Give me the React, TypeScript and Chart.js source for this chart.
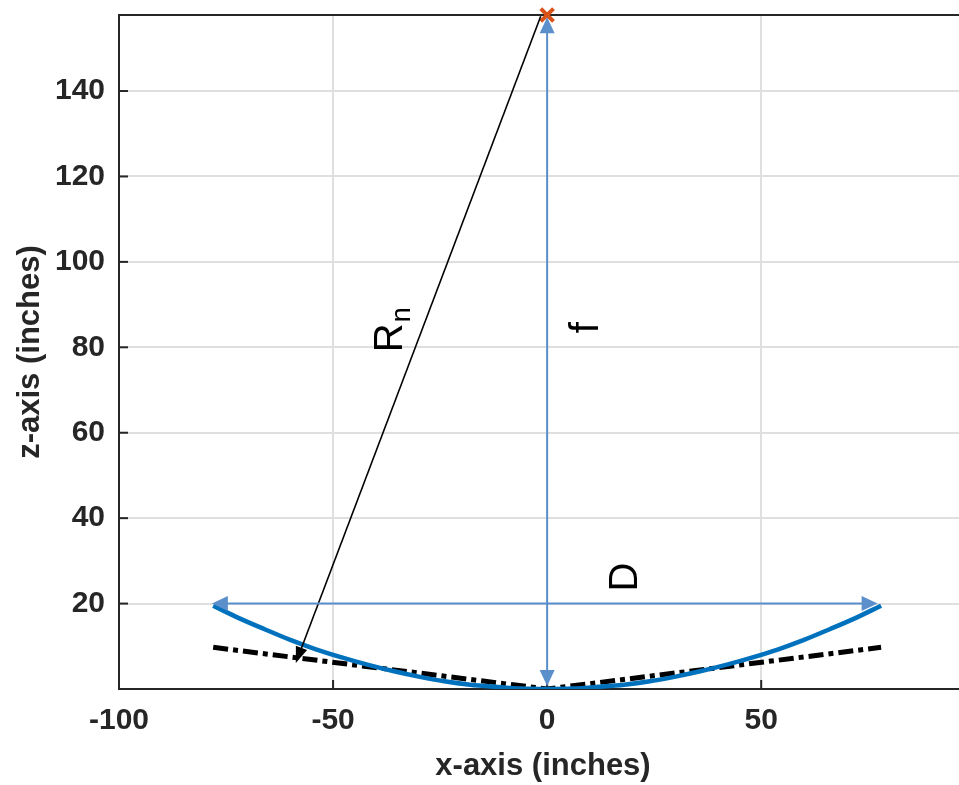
import React, { useEffect, useRef } from "react";
import { Chart, registerables } from "chart.js";

Chart.register(...registerables);

// ---- data (axis units) ----
const X_TICKS = [-100, -50, 0, 50];
const Z_TICKS = [20, 40, 60, 80, 100, 120, 140];
const X_RANGE = [-100, 96.2];
const Z_RANGE = [0, 157.8];

const DISH_X = [-78, -72, -66, -60, -54, -48, -42, -36, -30, -24, -18, -12, -6, 0, 6, 12, 18, 24, 30, 36, 42, 48, 54, 60, 66, 72, 78];
const DISH_Z = [19.5, 16.6, 14.0, 11.5, 9.3, 7.4, 5.7, 4.2, 2.9, 1.8, 1.0, 0.5, 0.1, 0, 0.1, 0.5, 1.0, 1.8, 2.9, 4.2, 5.7, 7.4, 9.3, 11.5, 14.0, 16.6, 19.5];

const CONE_X = [-78, 0, 78];
const CONE_Z = [9.75, 0, 9.75];

const FOCUS = { x: 0, z: 157.8 };

// annotation arrows: [x1, z1, x2, z2]
const ARROW_RN = [-1.5, 157.5, -58.7, 6.1];
const ARROW_F = [0, 0.7, 0, 157.3];
const ARROW_D = [-78.3, 20, 77.2, 20];

// label anchors (baseline x, centre z)
const LABEL_RN = { x: -33.8, z: 84 };
const LABEL_F = { x: 11.8, z: 84.6 };
const LABEL_D = { x: 20.9, z: 26.2 };

const FONT = "'Liberation Sans', Arial, Helvetica, sans-serif";
const AXIS_COLOR = "#262626";
const ARROW_BLUE = "#5B8FCB";

function drawArrow(ctx: CanvasRenderingContext2D, x1: number, y1: number, x2: number, y2: number, color: string, lw: number, hl: number, hw: number, both: boolean) {
  const dx = x2 - x1, dy = y2 - y1;
  const len = Math.hypot(dx, dy);
  const ux = dx / len, uy = dy / len;
  const px = -uy, py = ux;
  const sx = both ? x1 + ux * hl * 0.9 : x1;
  const sy = both ? y1 + uy * hl * 0.9 : y1;
  const ex = x2 - ux * hl * 0.9, ey = y2 - uy * hl * 0.9;
  ctx.save();
  ctx.strokeStyle = color;
  ctx.fillStyle = color;
  ctx.lineWidth = lw;
  ctx.beginPath();
  ctx.moveTo(sx, sy);
  ctx.lineTo(ex, ey);
  ctx.stroke();
  const head = (tx: number, ty: number, dirx: number, diry: number) => {
    const bx = tx - dirx * hl, by = ty - diry * hl;
    ctx.beginPath();
    ctx.moveTo(tx, ty);
    ctx.lineTo(bx + px * hw / 2, by + py * hw / 2);
    ctx.lineTo(bx - px * hw / 2, by - py * hw / 2);
    ctx.closePath();
    ctx.fill();
  };
  head(x2, y2, ux, uy);
  if (both) head(x1, y1, -ux, -uy);
  ctx.restore();
}

const decorPlugin = {
  id: "decor",
  beforeDatasetsDraw(chart: any) {
    const { ctx, chartArea, scales } = chart;
    const xs = scales.x, ys = scales.y;
    ctx.save();
    ctx.strokeStyle = AXIS_COLOR;
    ctx.lineWidth = 2;
    ctx.beginPath();
    ctx.moveTo(chartArea.left, chartArea.top);
    ctx.lineTo(chartArea.right, chartArea.top);
    ctx.stroke();
    for (const v of X_TICKS) {
      const p = xs.getPixelForValue(v);
      ctx.beginPath();
      ctx.moveTo(p, chartArea.bottom);
      ctx.lineTo(p, chartArea.bottom - 9);
      ctx.stroke();
    }
    for (const v of Z_TICKS) {
      const p = ys.getPixelForValue(v);
      ctx.beginPath();
      ctx.moveTo(chartArea.left, p);
      ctx.lineTo(chartArea.left + 9, p);
      ctx.stroke();
    }
    ctx.restore();
  },
  afterDatasetsDraw(chart: any) {
    const { ctx, chartArea, scales } = chart;
    const xs = scales.x, ys = scales.y;
    const X = (v: number) => xs.getPixelForValue(v);
    const Y = (v: number) => ys.getPixelForValue(v);

    drawArrow(ctx, X(ARROW_RN[0]), Y(ARROW_RN[1]), X(ARROW_RN[2]), Y(ARROW_RN[3]), "#000000", 1.6, 16, 12, false);
    drawArrow(ctx, X(ARROW_F[0]), Y(ARROW_F[1]), X(ARROW_F[2]), Y(ARROW_F[3]), ARROW_BLUE, 2, 16, 15, true);
    drawArrow(ctx, X(ARROW_D[0]), Y(ARROW_D[1]), X(ARROW_D[2]), Y(ARROW_D[3]), ARROW_BLUE, 2, 16, 15, true);

    ctx.save();
    ctx.fillStyle = "#000000";
    ctx.textBaseline = "alphabetic";
    ctx.save();
    ctx.translate(X(LABEL_RN.x), Y(LABEL_RN.z));
    ctx.rotate(-Math.PI / 2);
    ctx.font = `40px ${FONT}`;
    const wR = ctx.measureText("R").width;
    ctx.font = `27px ${FONT}`;
    const wn = ctx.measureText("n").width;
    const start = -(wR + wn) / 2;
    ctx.textAlign = "left";
    ctx.font = `40px ${FONT}`;
    ctx.fillText("R", start, 0);
    ctx.font = `27px ${FONT}`;
    ctx.fillText("n", start + wR + 1, 8);
    ctx.restore();
    ctx.save();
    ctx.translate(X(LABEL_F.x), Y(LABEL_F.z));
    ctx.rotate(-Math.PI / 2);
    ctx.textAlign = "center";
    ctx.font = `40px ${FONT}`;
    ctx.fillText("f", 0, 0);
    ctx.restore();
    ctx.save();
    ctx.translate(X(LABEL_D.x), Y(LABEL_D.z));
    ctx.rotate(-Math.PI / 2);
    ctx.textAlign = "center";
    ctx.font = `40px ${FONT}`;
    ctx.fillText("D", 0, 0);
    ctx.restore();
    ctx.restore();

    ctx.save();
    ctx.fillStyle = AXIS_COLOR;
    ctx.font = `bold 31px ${FONT}`;
    ctx.textAlign = "center";
    ctx.textBaseline = "middle";
    ctx.fillText("x-axis (inches)", 543, 766);
    ctx.translate(30, (chartArea.top + chartArea.bottom) / 2);
    ctx.rotate(-Math.PI / 2);
    ctx.fillText("z-axis (inches)", 0, 0);
    ctx.restore();
  },
};

export default function App() {
  const ref = useRef<HTMLCanvasElement | null>(null);
  useEffect(() => {
    if (!ref.current) return;
    const chart = new Chart(ref.current, {
      type: "line",
      data: {
        datasets: [
          {
            label: "dish",
            data: DISH_X.map((x, i) => ({ x, y: DISH_Z[i] })),
            borderColor: "#0072BD",
            borderWidth: 4.5,
            pointRadius: 0,
            tension: 0.4,
            cubicInterpolationMode: "monotone",
            fill: false,
          },
          {
            label: "cone",
            data: CONE_X.map((x, i) => ({ x, y: CONE_Z[i] })),
            borderColor: "#000000",
            borderWidth: 5,
            borderDash: [15, 5, 5, 5],
            pointRadius: 0,
            fill: false,
          },
          {
            label: "focus",
            data: [{ x: FOCUS.x, y: FOCUS.z }],
            showLine: false,
            pointStyle: "crossRot",
            pointRadius: 9,
            pointBorderWidth: 4,
            pointBorderColor: "#D95319",
            pointBackgroundColor: "#D95319",
            clip: false,
          } as any,
        ],
      },
      options: {
        animation: false,
        responsive: false,
        maintainAspectRatio: false,
        layout: { autoPadding: false, padding: { top: 15, left: 0, right: 0, bottom: 0 } },
        plugins: { legend: { display: false }, tooltip: { enabled: false } },
        scales: {
          x: {
            type: "linear",
            position: "bottom",
            min: X_RANGE[0],
            max: X_RANGE[1],
            afterBuildTicks: (s: any) => { s.ticks = X_TICKS.map((v) => ({ value: v })); },
            afterFit: (s: any) => { s.height = 96; s.paddingLeft = 0; s.paddingRight = 0; s.paddingTop = 0; s.paddingBottom = 0; },
            grid: { color: "#DFDFDF", lineWidth: 2, drawTicks: false },
            border: { display: true, color: AXIS_COLOR, width: 2 },
            ticks: { font: { family: FONT, size: 30, weight: "bold" }, color: AXIS_COLOR, padding: 14, maxRotation: 0 },
          },
          y: {
            type: "linear",
            position: "left",
            min: Z_RANGE[0],
            max: Z_RANGE[1],
            afterBuildTicks: (s: any) => { s.ticks = Z_TICKS.map((v) => ({ value: v })); },
            afterFit: (s: any) => { s.width = 119; s.paddingLeft = 0; s.paddingRight = 0; s.paddingTop = 0; s.paddingBottom = 0; },
            grid: { color: "#DFDFDF", lineWidth: 2, drawTicks: false },
            border: { display: true, color: AXIS_COLOR, width: 2 },
            ticks: { font: { family: FONT, size: 30, weight: "bold" }, color: AXIS_COLOR, padding: 14 },
          },
        },
      } as any,
      plugins: [decorPlugin],
    });
    return () => chart.destroy();
  }, []);
  return (
    <div style={{ position: "absolute", left: 0, top: 0, width: 959, height: 785, background: "#fff" }}>
      <canvas ref={ref} width={959} height={785} style={{ width: 959, height: 785, display: "block" }} />
    </div>
  );
}
